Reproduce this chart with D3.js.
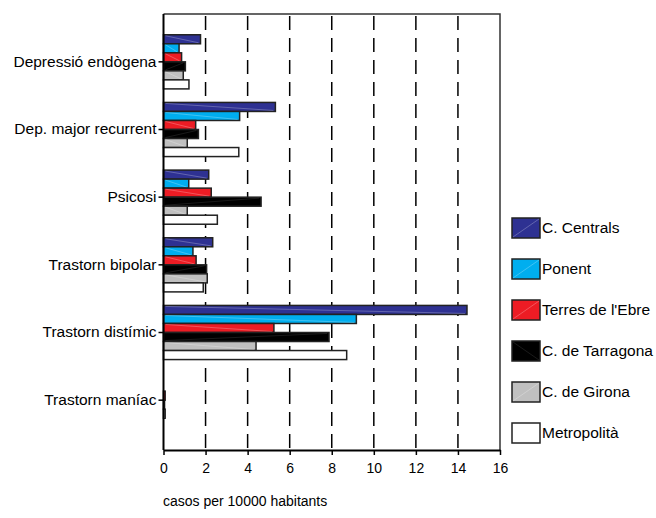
<html>
<head>
<meta charset="utf-8">
<script src="https://d3js.org/d3.v7.min.js"></script>
<style>
  body { margin: 0; background: #fff; }
  text { font-family: "Liberation Sans", Arial, sans-serif; fill: #000; }
</style>
</head>
<body>
<script>
// data
const categories = ["Depressió endògena", "Dep. major recurrent", "Psicosi",
                    "Trastorn bipolar", "Trastorn distímic", "Trastorn maníac"];
const regions = ["C. Centrals", "Ponent", "Terres de l'Ebre", "C. de Tarragona", "C. de Girona", "Metropolità"];
const colors = ["#2e3192", "#00aeef", "#ed1c24", "#000000", "#c0c0c0", "#ffffff"];
const centrals   = [1.76, 5.32, 2.15, 2.34, 14.43, 0];
const ponent     = [0.74, 3.62, 1.20, 1.40, 9.17, 0];
const terres     = [0.86, 1.53, 2.27, 1.55, 5.25, 0.08];
const tarragona  = [1.04, 1.66, 4.64, 2.05, 7.87, 0.05];
const girona     = [0.94, 1.13, 1.13, 2.08, 4.40, 0.08];
const metro      = [1.21, 3.58, 2.56, 1.89, 8.71, 0];
const xTicks = [0, 2, 4, 6, 8, 10, 12, 14, 16];

const series = [centrals, ponent, terres, tarragona, girona, metro];

const W = 656, H = 518;
const plotL = 163.5, plotR = 500, plotT = 14, plotB = 450;

const svg = d3.select("body").append("svg")
    .attr("width", W)
    .attr("height", H);

let x = d3.scaleLinear().domain([0, 16]).range([plotL, plotR]);
let y = d3.scaleBand().domain(categories).range([28, 434])
    .paddingInner(0.2).paddingOuter(0.1);
let yInner = d3.scaleBand().domain(d3.range(regions.length)).range([0, y.bandwidth()]);

// frame (top and right)
svg.append("path")
  .attr("d", `M${plotL},${plotT}H${plotR}V${plotB}`)
  .attr("fill", "none")
  .attr("stroke", "#333")
  .attr("stroke-width", 1.5);

// dashed gridlines
xTicks.slice(1, -1).forEach(t =>
  svg.append("line")
    .attr("x1", x(t)).attr("x2", x(t))
    .attr("y1", plotT + 2).attr("y2", plotB)
    .attr("stroke", "#000")
    .attr("stroke-width", 1.5)
    .attr("stroke-dasharray", "14,8")
);

// bars
series.forEach((vals, s) => {
  categories.forEach((c, i) => {
    let v = vals[i];
    if (v <= 0) return;
    let y0 = y(c) + yInner(s);
    let h = yInner.bandwidth();
    svg.append("rect")
      .attr("x", x(0))
      .attr("y", y0)
      .attr("width", x(v) - x(0))
      .attr("height", h)
      .attr("fill", colors[s])
      .attr("stroke", "#222")
      .attr("stroke-width", 1.5);
    // faint diagonal sheen like the original
    if (x(v) - x(0) > 6 && s != 5) {
      svg.append("line")
        .attr("x1", x(0) + 2).attr("y1", s == 3 ? y0 + h - 1 : y0 + 1)
        .attr("x2", x(v) - 2).attr("y2", s == 3 ? y0 + 1 : y0 + h - 1)
        .attr("stroke", s == 3 ? "#666" : "#fff")
        .attr("stroke-opacity", 0.25)
        .attr("stroke-width", 1);
    }
  });
});

// axes
let xAxis = svg.append("g")
  .attr("transform", `translate(0,${plotB})`)
  .call(d3.axisBottom(x).tickValues(xTicks).tickSize(5).tickSizeOuter(0));
xAxis.select(".domain").attr("stroke", "#000").attr("stroke-width", 2);
xAxis.selectAll(".tick line").attr("stroke", "#000").attr("stroke-width", 1.5);
xAxis.selectAll("text")
  .attr("font-size", 14)
  .attr("font-family", "Liberation Sans, Arial, sans-serif")
  .attr("dy", 0)
  .attr("y", 23);

let yAxis = svg.append("g")
  .attr("transform", `translate(${plotL},0)`)
  .call(d3.axisLeft(y).tickSize(5).tickSizeOuter(0));
yAxis.select(".domain").attr("d", `M0,${plotT}V${plotB}`).attr("stroke", "#000").attr("stroke-width", 2);
yAxis.selectAll(".tick line").attr("stroke", "#000").attr("stroke-width", 1.5);
yAxis.selectAll("text")
  .attr("font-size", 15.5)
  .attr("font-family", "Liberation Sans, Arial, sans-serif")
  .attr("x", -7);

// axis title
svg.append("text")
  .attr("x", 163)
  .attr("y", 506)
  .attr("font-size", 14)
  .text("casos per 10000 habitants");

// legend
regions.forEach((r, i) => {
  let cy = 228 + 41 * i;
  svg.append("rect")
    .attr("x", 512).attr("y", cy - 10)
    .attr("width", 28).attr("height", 20)
    .attr("fill", colors[i])
    .attr("stroke", "#222")
    .attr("stroke-width", 1.5);
  if (i != 5) {
    svg.append("line")
      .attr("x1", 513).attr("y1", i == 3 ? cy - 9 : cy + 9)
      .attr("x2", 539).attr("y2", i == 3 ? cy + 9 : cy - 9)
      .attr("stroke", i == 3 ? "#666" : "#fff")
      .attr("stroke-opacity", 0.25);
  }
  svg.append("text")
    .attr("x", 542)
    .attr("y", cy)
    .attr("dy", "0.35em")
    .attr("font-size", 15.5)
    .text(r);
});
</script>
</body>
</html>
